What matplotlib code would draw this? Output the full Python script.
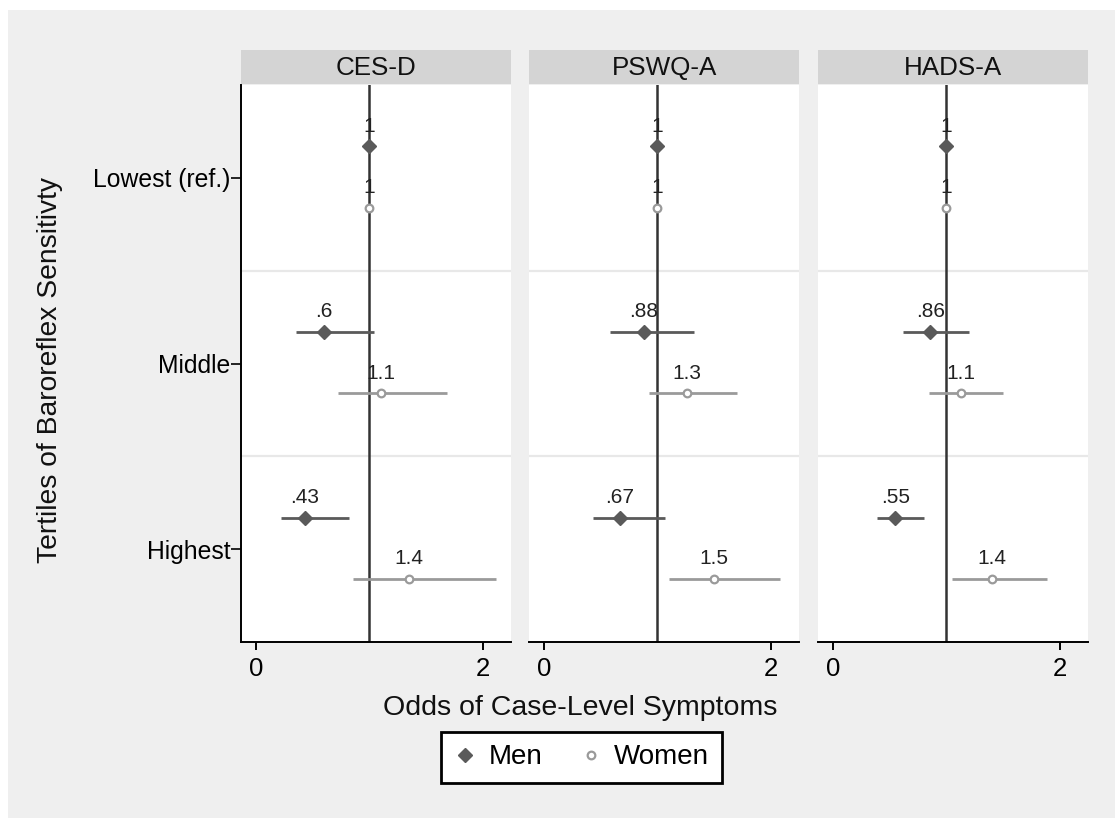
import numpy as np
import matplotlib
matplotlib.use('Agg')
import matplotlib.pyplot as plt
from matplotlib.lines import Line2D
from matplotlib.patches import Rectangle

plt.rcParams['font.family'] = ['Liberation Sans', 'DejaVu Sans']

# odds ratios and 95% CIs by tertile (Lowest is the reference)
scales = ['CES-D', 'PSWQ-A', 'HADS-A']
tertiles = ['Lowest (ref.)', 'Middle', 'Highest']

men_or = [[1, 0.60, 0.43], [1, 0.88, 0.67], [1, 0.86, 0.55]]
men_lo = [[1, 0.35, 0.22], [1, 0.58, 0.43], [1, 0.62, 0.39]]
men_hi = [[1, 1.04, 0.82], [1, 1.32, 1.07], [1, 1.20, 0.80]]
men_lab = [['1', '.6', '.43'], ['1', '.88', '.67'], ['1', '.86', '.55']]

women_or = [[1, 1.10, 1.35], [1, 1.26, 1.50], [1, 1.13, 1.40]]
women_lo = [[1, 0.72, 0.86], [1, 0.93, 1.10], [1, 0.85, 1.05]]
women_hi = [[1, 1.69, 2.12], [1, 1.70, 2.08], [1, 1.50, 1.89]]
women_lab = [['1', '1.1', '1.4'], ['1', '1.3', '1.5'], ['1', '1.1', '1.4']]

xticks = [0, 2]

W, H = 1115, 818
fig = plt.figure(figsize=(W / 100, H / 100), dpi=100, facecolor='white')
fig.patches.append(Rectangle((8 / W, 0), 1, 1 - 10 / H, transform=fig.transFigure,
                             facecolor='#efefef', edgecolor='none', zorder=-10))


def box(l, t, r, b):
    return [l / W, 1 - b / H, (r - l) / W, (b - t) / H]


men_c = '#5a5a5a'
women_c = '#9a9a9a'
xmin, xmax = -0.13, 2.25
zeros = [256, 544, 833]
scale = 113.3
y = np.arange(len(tertiles))

for i, name in enumerate(scales):
    left = zeros[i] + xmin * scale
    right = zeros[i] + xmax * scale
    ax = fig.add_axes(box(left, 85, right, 642))
    hd = fig.add_axes(box(left, 50, right, 84))
    hd.set_facecolor('#d4d4d4')
    hd.set_xticks([]); hd.set_yticks([])
    for s in hd.spines.values():
        s.set_visible(False)
    hd.text(0.5, 0.47, name, ha='center', va='center', fontsize=18.7, color='#111111')

    ax.set_facecolor('white')
    ax.set_xlim(xmin, xmax)
    ax.set_ylim(2.5, -0.5)
    for g in [0.5, 1.5]:
        ax.axhline(g, color='#e8e8e8', lw=1.6, zorder=1)
    ax.axvline(1, color='#333333', lw=1.8, zorder=2)

    ym = y - 0.17
    yw = y + 0.16
    ax.hlines(ym, men_lo[i], men_hi[i], color=men_c, lw=2, zorder=3)
    ax.hlines(yw, women_lo[i], women_hi[i], color=women_c, lw=2, zorder=3)
    ax.plot(men_or[i], ym, 'D', color=men_c, ms=6.8, zorder=4)
    ax.plot(women_or[i], yw, 'o', mfc='white', mec=women_c, mew=1.6, ms=5.5, zorder=4)
    for k in range(len(tertiles)):
        ax.annotate(men_lab[i][k], (men_or[i][k], ym[k]), xytext=(0, 10.5),
                    textcoords='offset points', ha='center', va='baseline',
                    fontsize=15, color='#222222', zorder=5)
        ax.annotate(women_lab[i][k], (women_or[i][k], yw[k]), xytext=(0, 10.5),
                    textcoords='offset points', ha='center', va='baseline',
                    fontsize=15, color='#222222', zorder=5)

    for s in ['top', 'right']:
        ax.spines[s].set_visible(False)
    ax.spines['bottom'].set_linewidth(1.4)
    ax.set_xticks(xticks)
    ax.set_xticklabels([str(t) for t in xticks])
    ax.tick_params(axis='x', length=6, width=1.4, pad=5, labelsize=18.5)
    if i == 0:
        ax.spines['left'].set_linewidth(1.4)
        ax.set_yticks(y)
        ax.set_yticklabels(tertiles)
        ax.tick_params(axis='y', length=7, width=1.2, pad=1, labelsize=17.8)
    else:
        ax.spines['left'].set_visible(False)
        ax.set_yticks([])

fig.text(580 / W, 1 - 708 / H, 'Odds of Case-Level Symptoms', ha='center', va='center',
         fontsize=20.5, color='#111111')
fig.text(50 / W, 1 - 370 / H, 'Tertiles of Baroreflex Sensitivty', ha='center', va='center',
         rotation=90, fontsize=20.3, color='#111111')

handles = [Line2D([], [], ls='none', marker='D', color=men_c, ms=6.8),
           Line2D([], [], ls='none', marker='o', mfc='white', mec=women_c, mew=1.6, ms=5.5)]
leg = fig.legend(handles, ['Men', 'Women'], loc='center',
                 bbox_to_anchor=(581.5 / W, 1 - 757.5 / H), ncol=2, frameon=True,
                 fancybox=False, edgecolor='black', framealpha=1, fontsize=20,
                 handlelength=0.8, handletextpad=0.45, columnspacing=1.35, borderpad=0.45)
leg.get_frame().set_linewidth(2)

fig.savefig('out.png', dpi=100, facecolor=fig.get_facecolor())
